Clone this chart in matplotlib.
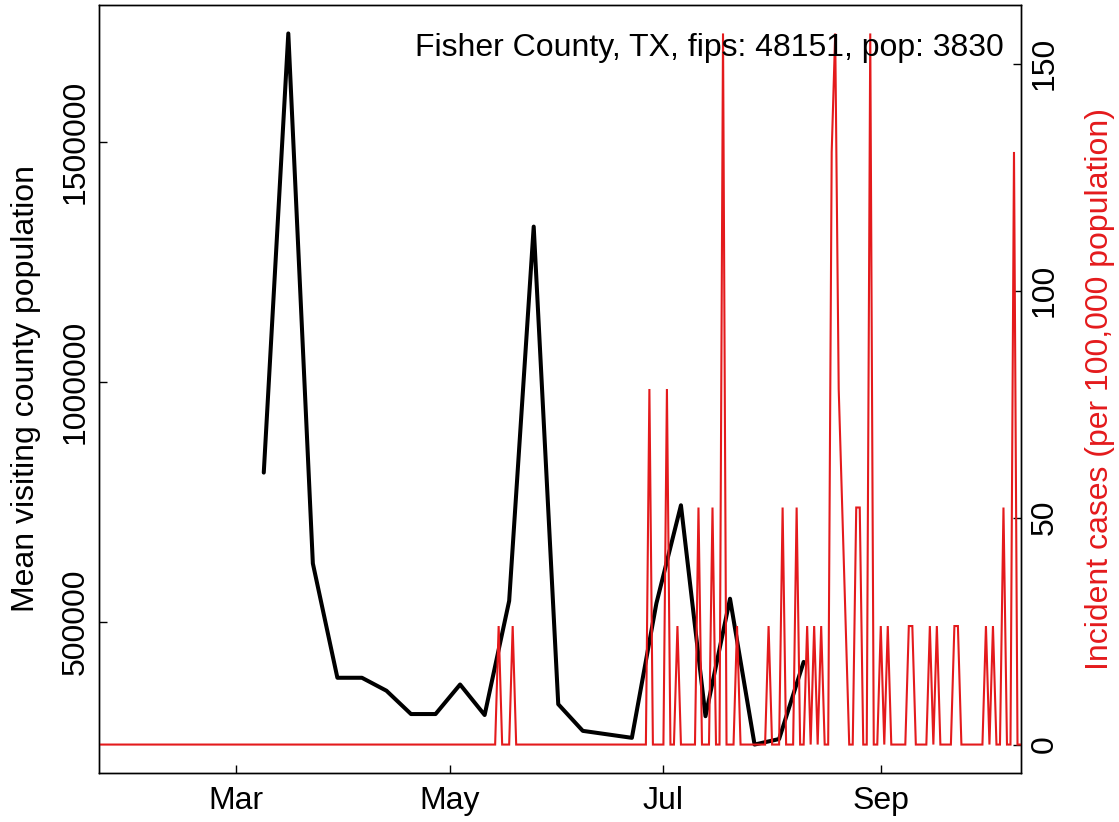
import matplotlib
matplotlib.use("Agg")
import matplotlib.pyplot as plt
import matplotlib.dates as mdates
import numpy as np
import pandas as pd

plt.rcParams['font.family'] = ['Liberation Sans', 'DejaVu Sans']

# ---- data ----
title_text = "Fisher County, TX, fips: 48151, pop: 3830"
population = 3830

# weekly mean visiting county population (black)
visit_dates = ["2020-03-09", "2020-03-16", "2020-03-23", "2020-03-30", "2020-04-06",
               "2020-04-13", "2020-04-20", "2020-04-27", "2020-05-04", "2020-05-11",
               "2020-05-18", "2020-05-25", "2020-06-01", "2020-06-08", "2020-06-22",
               "2020-06-29", "2020-07-06", "2020-07-13", "2020-07-20", "2020-07-27",
               "2020-08-03", "2020-08-10"]
visit_values = [811000, 1725000, 622000, 384000, 384000,
                357000, 308500, 308500, 370000, 306500,
                544000, 1323000, 329000, 273500, 259000,
                539000, 743000, 304000, 548500, 245000,
                256500, 417000]

# daily incident cases (red), days not listed have zero cases
series_start = "2020-01-22"
series_end = "2020-10-11"
case_dates = ["2020-05-15", "2020-05-19", "2020-06-27", "2020-07-02", "2020-07-05",
              "2020-07-11", "2020-07-15", "2020-07-18", "2020-07-22", "2020-07-31",
              "2020-08-04", "2020-08-08", "2020-08-11", "2020-08-13", "2020-08-15",
              "2020-08-18", "2020-08-19", "2020-08-20", "2020-08-21", "2020-08-22",
              "2020-08-25", "2020-08-26", "2020-08-29", "2020-09-01", "2020-09-03",
              "2020-09-09", "2020-09-10", "2020-09-15", "2020-09-17", "2020-09-22",
              "2020-09-23", "2020-10-01", "2020-10-03", "2020-10-06", "2020-10-09"]
case_counts = [1, 1, 3, 3, 1,
               2, 2, 6, 1, 1,
               2, 2, 1, 1, 1,
               5, 6, 3, 2, 1,
               2, 2, 6, 1, 1,
               1, 1, 1, 1, 1,
               1, 1, 1, 2, 5]

x_tick_dates = ["2020-03-01", "2020-05-01", "2020-07-01", "2020-09-01"]
x_tick_labels = ["Mar", "May", "Jul", "Sep"]
left_ticks = [500000, 1000000, 1500000]
right_ticks = [0, 50, 100, 150]

# ---- build series ----
daily = pd.Series(0.0, index=pd.date_range(series_start, series_end, freq="D"))
for d, c in zip(case_dates, case_counts):
    daily[pd.Timestamp(d)] = c
incidence = daily * 100000.0 / population

vdates = pd.to_datetime(visit_dates)

# ---- figure ----
W, H = 1119, 822
fig = plt.figure(figsize=(W / 100, H / 100), dpi=100)
L, R, T, B = 99, 1021, 5, 773
ax = fig.add_axes([L / W, 1 - B / H, (R - L) / W, (B - T) / H])

red = "#E41A1C"
fs = 23

ax.plot(vdates, visit_values, color="black", lw=2.9,
        solid_capstyle="round", solid_joinstyle="round", zorder=3)

vmin, vmax = min(visit_values), max(visit_values)
vr = vmax - vmin
ax.set_ylim(vmin - 0.04 * vr, vmax + 0.04 * vr)
ax.set_xlim(pd.Timestamp(series_start), pd.Timestamp(series_end))

ax2 = ax.twinx()
ax2.plot(incidence.index, incidence.values, color=red, lw=1.5,
         solid_joinstyle="miter", zorder=2)
imax = incidence.max()
ax2.set_ylim(-0.04 * imax, imax * 1.04)
ax2.set_xlim(pd.Timestamp(series_start), pd.Timestamp(series_end))

# x axis
ax.set_xticks(pd.to_datetime(x_tick_dates))
ax.set_xticklabels(x_tick_labels)
ax.tick_params(axis="x", direction="in", length=5.8, width=1.0, labelsize=fs, pad=9)

# left axis
ax.set_yticks(left_ticks)
ax.set_yticklabels([str(v) for v in left_ticks])
ax.tick_params(axis="y", direction="in", length=5.8, width=1.0, labelsize=fs, pad=6)
for lab in ax.get_yticklabels():
    lab.set_rotation(90)
    lab.set_va("center")
    lab.set_ha("right")

# right axis
ax2.set_yticks(right_ticks)
ax2.set_yticklabels([str(v) for v in right_ticks])
ax2.tick_params(axis="y", direction="in", length=5.8, width=1.0, labelsize=fs, pad=6)
for lab in ax2.get_yticklabels():
    lab.set_rotation(90)
    lab.set_va("center")
    lab.set_ha("left")

for a in (ax, ax2):
    for s in a.spines.values():
        s.set_linewidth(1.0)

cy = 1 - ((T + B) / 2) / H
fig.text(26 / W, cy, "Mean visiting county population", rotation=90,
         ha="center", va="center", fontsize=fs, color="black")
fig.text(1100 / W, cy, "Incident cases (per 100,000 population)", rotation=90,
         ha="center", va="center", fontsize=fs, color=red)

fig.text(1004 / W, 1 - 56 / H, title_text, ha="right", va="baseline",
         fontsize=fs, color="black")

fig.savefig("out.png", dpi=100)
